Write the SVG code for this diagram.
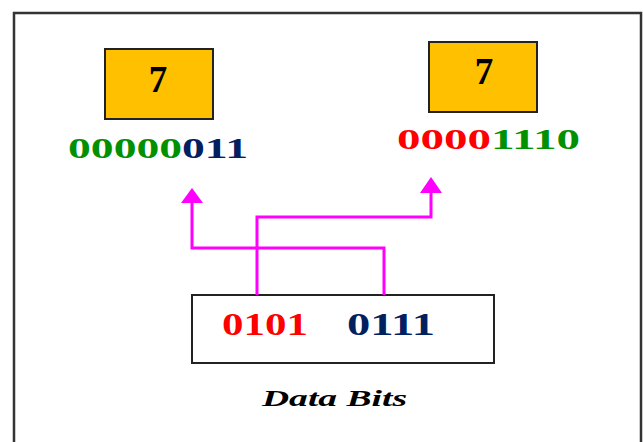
<svg xmlns="http://www.w3.org/2000/svg" width="643" height="442" viewBox="0 0 643 442">
<defs>
<style>
.t{font-family:"Liberation Serif","Times New Roman",serif;font-weight:bold}
.box{fill:#ffc000;stroke:#222;stroke-width:2}
.g{fill:#009000}.b{fill:#002060}.r{fill:#ff0000}
.c{fill:none;stroke:#ff00ff;stroke-width:3}
.ah{fill:#ff00ff}
</style>
</defs>
<rect x="0" y="0" width="643" height="442" fill="#fff"/>
<rect x="14" y="13" width="627" height="440" fill="none" stroke="#333" stroke-width="2.5"/>
<g id="left">
<rect class="box" x="105" y="49" width="108" height="70"/>
<text class="t" x="158" y="92" text-anchor="middle" font-size="37">7</text>
<text class="t" x="68" y="158" font-size="29" textLength="180" lengthAdjust="spacingAndGlyphs"><tspan class="g">00000</tspan><tspan class="b">011</tspan></text>
</g>
<g id="right">
<rect class="box" x="429" y="42" width="108" height="70"/>
<text class="t" x="484" y="84" text-anchor="middle" font-size="37">7</text>
<text class="t" x="397" y="149" font-size="29" textLength="183" lengthAdjust="spacingAndGlyphs"><tspan class="r">0000</tspan><tspan class="g">1110</tspan></text>
</g>
<g id="data">
<rect x="192" y="295" width="302" height="68" fill="#fff" stroke="#222" stroke-width="2"/>
<text class="t r" x="222" y="335" font-size="31" textLength="86" lengthAdjust="spacingAndGlyphs">0101</text>
<text class="t b" x="347" y="335" font-size="31" textLength="88" lengthAdjust="spacingAndGlyphs">0111</text>
</g>
<g id="label">
<text class="t" x="262" y="406" font-size="23" font-style="italic" textLength="145" lengthAdjust="spacingAndGlyphs">Data Bits</text>
</g>
<g id="connectors">
<path class="c" d="M257,295 V217 H431 V193"/>
<path class="c" d="M384,295 V248 H192 V203"/>
<path class="ah" d="M420,193 L431,177 L442,193 Z"/>
<path class="ah" d="M181,203 L192,188 L203,203 Z"/>
</g>
</svg>
